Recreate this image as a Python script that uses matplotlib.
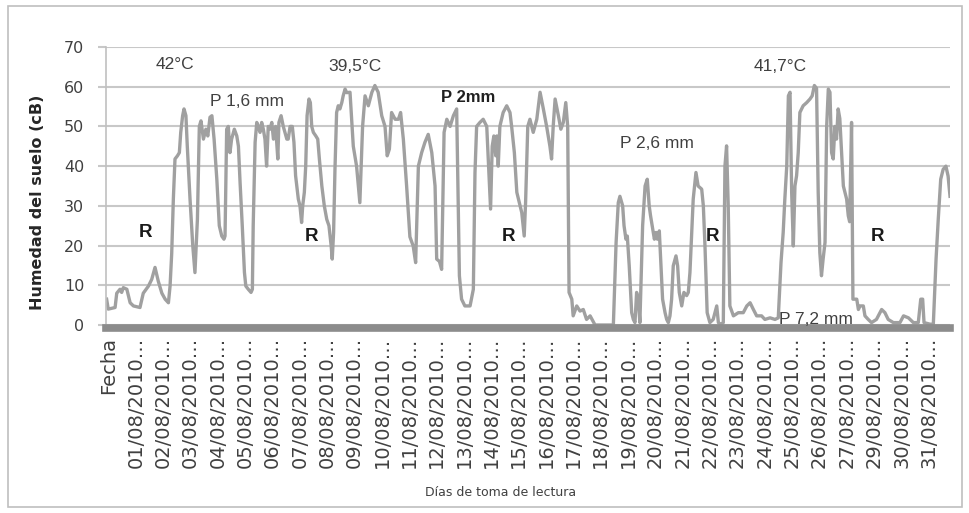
import matplotlib
matplotlib.use("Agg")
import matplotlib.pyplot as plt
from matplotlib.patches import Rectangle

out_file = "out.png"

# x = posicion en dias sobre el eje de categorias (0 = "Fecha"), y = humedad (cB)
dias_1 = [-0.07, -0.01, 0.24, 0.30, 0.42, 0.48, 0.54, 0.67, 0.79, 0.91,
          1.15, 1.27, 1.46, 1.58, 1.70, 1.82, 1.95, 2.07, 2.19, 2.25,
          2.31, 2.37, 2.43, 2.52, 2.59, 2.64, 2.71, 2.76, 2.83, 2.88,
          2.98, 3.08, 3.16, 3.25, 3.32, 3.38, 3.47, 3.56, 3.63, 3.71,
          3.78, 3.86, 3.96, 4.05, 4.14, 4.22]
humedad_1 = [6.5, 4, 4.4, 8, 9, 8.2, 9.4, 9, 5.6, 4.8,
             4.4, 8, 9.8, 11.5, 14.5, 11, 8, 6.5, 5.6, 9.8,
             18, 31.7, 41.8, 42.6, 43.4, 48.5, 52.7, 54.4, 52.7, 45,
             31.7, 20, 13.2, 26.6, 50, 51.4, 46.8, 49.3, 47.6, 52.3,
             52.7, 46.8, 36.7, 25, 22.4, 21.6]

dias_2 = [4.26, 4.32, 4.38, 4.44, 4.50, 4.60, 4.69, 4.75, 4.81, 4.89,
          4.97, 5.02, 5.11, 5.21, 5.26, 5.29, 5.36, 5.42, 5.48, 5.54,
          5.60, 5.66, 5.72, 5.78, 5.84, 5.90, 5.97, 6.03, 6.11, 6.19,
          6.23, 6.31, 6.39, 6.45, 6.52, 6.57, 6.64, 6.72, 6.78, 6.84,
          6.94, 7.00, 7.06, 7.10, 7.16, 7.21, 7.26, 7.33, 7.38, 7.43,
          7.49, 7.58, 7.65, 7.71, 7.80, 7.89, 7.98, 8.06, 8.14, 8.18,
          8.23, 8.28, 8.34, 8.40, 8.46, 8.53, 8.58, 8.65, 8.71]
humedad_2 = [22.4, 49.3, 50, 43.4, 46.8, 49.3, 47.6, 45, 35.9, 25,
             13.2, 9.8, 9, 8.2, 9, 25, 46, 51, 50, 48.5,
             51, 49.3, 46.8, 40, 50, 49.3, 51, 46.8, 50, 41.8,
             51, 52.7, 50, 48.5, 46.8, 46.8, 50, 50, 46, 37.6,
             31.7, 30, 25.8, 30, 33.4, 40, 52.7, 56.9, 56, 50,
             48.5, 47.6, 46.8, 41.8, 35, 30, 26.6, 25, 20, 16.6,
             23.3, 39.2, 53.5, 55.2, 54.4, 56, 57.7, 59.4, 58.5]

dias_3 = [8.83, 8.95, 9.07, 9.19, 9.29, 9.38, 9.50, 9.63, 9.74, 9.86,
          9.99, 10.11, 10.19, 10.27, 10.35, 10.48, 10.60, 10.68, 10.78, 10.90,
          11.02, 11.14, 11.23, 11.33, 11.45, 11.57, 11.69, 11.82, 11.94, 12.00,
          12.10, 12.18, 12.27, 12.37, 12.49, 12.61, 12.73, 12.83, 12.91, 13.03,
          13.22, 13.34]
humedad_3 = [58.6, 45, 40, 30.8, 50, 57.7, 55.2, 58.6, 60.3, 58.6,
             52.7, 50, 42.6, 44.3, 53.5, 51.8, 51.8, 53.5, 46.8, 35,
             22.2, 19.9, 15.7, 40, 43.4, 46, 48, 43.4, 35, 16.6,
             16, 14, 48.5, 51.8, 50, 52.7, 54.4, 12.4, 6.5, 4.8,
             4.8, 9]

dias_4 = [13.40, 13.46, 13.58, 13.70, 13.83, 13.91, 13.97, 14.03, 14.09, 14.16,
          14.20, 14.25, 14.31, 14.43, 14.56, 14.68, 14.74, 14.84, 14.93, 15.05,
          15.11, 15.20, 15.25, 15.33, 15.41, 15.53, 15.66, 15.78, 15.90, 16.02,
          16.14, 16.20, 16.26, 16.33, 16.45, 16.54, 16.63, 16.72, 16.79, 16.84,
          16.94, 16.99, 17.12, 17.24, 17.36, 17.48, 17.61, 17.79]
humedad_4 = [38.4, 50, 51, 51.8, 50, 38.4, 29.2, 45, 47.6, 42.6,
             47.6, 40, 50, 53.5, 55.2, 53.5, 50, 43.4, 33.4, 30,
             28.3, 22.4, 30.8, 50, 51.8, 48.5, 51.8, 58.6, 54.4, 50,
             45, 41.8, 50, 56.9, 52.7, 49.3, 51, 56, 50, 8.2,
             6.5, 2.3, 4.8, 3.5, 3.9, 1.4, 2.3, 0]

dias_5 = [17.97, 18.46, 18.56, 18.64, 18.70, 18.80, 18.85, 18.92, 18.97, 19.04,
          19.13, 19.19, 19.25, 19.31, 19.37, 19.43, 19.53, 19.62, 19.70, 19.77,
          19.82, 19.90, 19.96, 20.02, 20.07, 20.14, 20.19, 20.26, 20.35, 20.41,
          20.47, 20.53, 20.59, 20.65, 20.75, 20.81, 20.87, 20.96, 21.04, 21.14,
          21.20, 21.26, 21.38, 21.48, 21.56, 21.69, 21.75, 21.81, 21.89, 21.99,
          22.11, 22.24, 22.30, 22.38, 22.48, 22.54]
humedad_5 = [0, 0, 20.8, 30.8, 32.4, 30, 25, 21.6, 22.4, 14.9,
             3.1, 1.4, 0.6, 8.2, 6.5, 0.6, 25, 35, 36.7, 30,
             27.5, 24.1, 21.6, 23.3, 21.6, 23.7, 16.4, 6.5, 3.1, 1.4,
             0.6, 2.3, 6.5, 14.9, 17.4, 14.9, 8.2, 4.8, 8.2, 7.4,
             8.2, 13.2, 31.7, 38.4, 35, 34.2, 30, 19.9, 3.1, 0.6,
             1.4, 4.8, 0.6, 0.2, 0.6, 40]

dias_6 = [22.60, 22.66, 22.72, 22.85, 23.03, 23.21, 23.34, 23.46, 23.58, 23.70,
          23.88, 24.00, 24.19, 24.37, 24.49, 24.59, 24.67, 24.73, 24.80, 24.86,
          24.92, 24.98, 25.04, 25.10, 25.16, 25.22, 25.28, 25.40, 25.53, 25.65,
          25.73, 25.81, 25.89, 25.95, 26.01, 26.07, 26.13, 26.20, 26.26, 26.32,
          26.38, 26.44, 26.50, 26.56, 26.62, 26.68, 26.74, 26.80, 26.87, 26.99,
          27.05, 27.10, 27.17, 27.22]
humedad_6 = [45.1, 30, 4.8, 2.3, 3.1, 3.1, 4.8, 5.6, 3.9, 2.3,
             2.3, 1.4, 1.8, 1.4, 1.8, 15.7, 23.3, 31.7, 40, 57.7,
             58.6, 33.4, 19.9, 35, 37.6, 43.4, 53.5, 55.2, 56, 56.9,
             57.7, 60.3, 59.6, 33.4, 18.2, 12.4, 16.6, 20.8, 50, 59.4,
             58.6, 43.4, 41.8, 50, 46.8, 54.4, 52, 44.3, 35, 31.7,
             27.5, 26, 51, 6.5]

dias_7 = [27.36, 27.42, 27.48, 27.60, 27.66, 27.78, 27.90, 28.08, 28.27, 28.39,
          28.51, 28.70, 28.94, 29.07, 29.25, 29.43, 29.61, 29.70, 29.77, 29.82,
          30.04, 30.16, 30.26, 30.34, 30.43, 30.52, 30.62, 30.70, 30.77]
humedad_7 = [6.5, 3.9, 4.8, 4.8, 2.3, 1.4, 0.6, 1.4, 3.9, 3.1,
             1.4, 0.6, 0.6, 2.3, 1.8, 0.6, 0.6, 6.5, 6.5, 0.6,
             0.2, 0.2, 16.6, 26.6, 36.7, 39.2, 40, 37.5, 32.4]

# etiquetas del eje de categorias (falta el 28)
dias_etiqueta = [1, 2, 3, 4, 5, 6, 7, 8, 9, 10, 11, 12, 13, 14, 15, 16,
                 17, 18, 19, 20, 21, 22, 23, 24, 25, 26, 27, 29, 30, 31]
etiquetas_x = ["Fecha"] + ["%02d/08/2010\u2026" % d for d in dias_etiqueta]

# anotaciones del grafico
notas_texto = ["42\u00b0C", "P 1,6 mm", "39,5\u00b0C", "P 2,6 mm", "41,7\u00b0C", "P 7,2 mm"]
notas_x = [2.43, 5.08, 9.01, 20.04, 24.55, 25.87]
notas_y = [65.5, 56.2, 65.2, 45.8, 65.0, 1.3]
riego_x = [1.37, 7.44, 14.61, 22.1, 28.13]
riego_y = [23.4, 22.2, 22.4, 22.2, 22.4]


dias = dias_1 + dias_2 + dias_3 + dias_4 + dias_5 + dias_6 + dias_7
humedad = humedad_1 + humedad_2 + humedad_3 + humedad_4 + humedad_5 + humedad_6 + humedad_7

fig = plt.figure(figsize=(9.69, 5.13), dpi=100)
ax = fig.add_axes([0.1089, 0.3665, 0.8715, 0.5419])

ax.plot(dias, humedad, color="#a0a0a0", lw=2.4, zorder=2, solid_joinstyle="round")

ax.set_xlim(-0.11, 30.77)
ax.set_ylim(0, 70)
ax.set_yticks(range(0, 71, 10))
ax.yaxis.grid(True, color="#c8c8c8", lw=1.5)
ax.set_axisbelow(True)

for s in ["top", "right", "bottom"]:
    ax.spines[s].set_visible(False)
ax.spines["left"].set_color("#c0c0c0")
ax.spines["left"].set_linewidth(1.2)

# eje de categorias grueso
ax.axhline(-0.8, color="#8c8c8c", lw=5.5, clip_on=False, zorder=3)

ax.set_xticks(range(len(etiquetas_x)))
ax.set_xticklabels(etiquetas_x, rotation=90, fontsize=14, color="#404040")
ax.tick_params(axis="x", length=0, pad=8.5)
ax.tick_params(axis="y", length=5.8, width=1.5, color="#c8c8c8", pad=9.4,
               labelsize=11.5, labelcolor="#404040")

for t, x, y in zip(notas_texto, notas_x, notas_y):
    ax.text(x, y, t, ha="center", va="center", fontsize=12.5,
            family="Liberation Sans", color="#404040", zorder=4)
ax.text(13.16, 57.4, "P 2mm", ha="center", va="center", fontsize=12,
        family="Liberation Sans", fontweight="bold", color="#202020", zorder=4)
for x, y in zip(riego_x, riego_y):
    ax.text(x, y, "R", ha="center", va="center", fontsize=13.5,
            family="Liberation Sans", fontweight="bold", color="#1a1a1a", zorder=4)

fig.text(38 / 969, 1 - 202 / 513, "Humedad del suelo (cB)", rotation=90,
         ha="center", va="center", fontsize=11.5, fontweight="bold", color="#262626")
fig.text(501 / 969, 1 - 493 / 513, "D\u00edas de toma de lectura",
         ha="center", va="center", fontsize=9, color="#404040")

fig.add_artist(Rectangle((8 / 969, 6 / 513), 954 / 969, 501 / 513,
                         transform=fig.transFigure, fill=False,
                         edgecolor="#bfbfbf", lw=1.2))

fig.savefig(out_file, dpi=100)
